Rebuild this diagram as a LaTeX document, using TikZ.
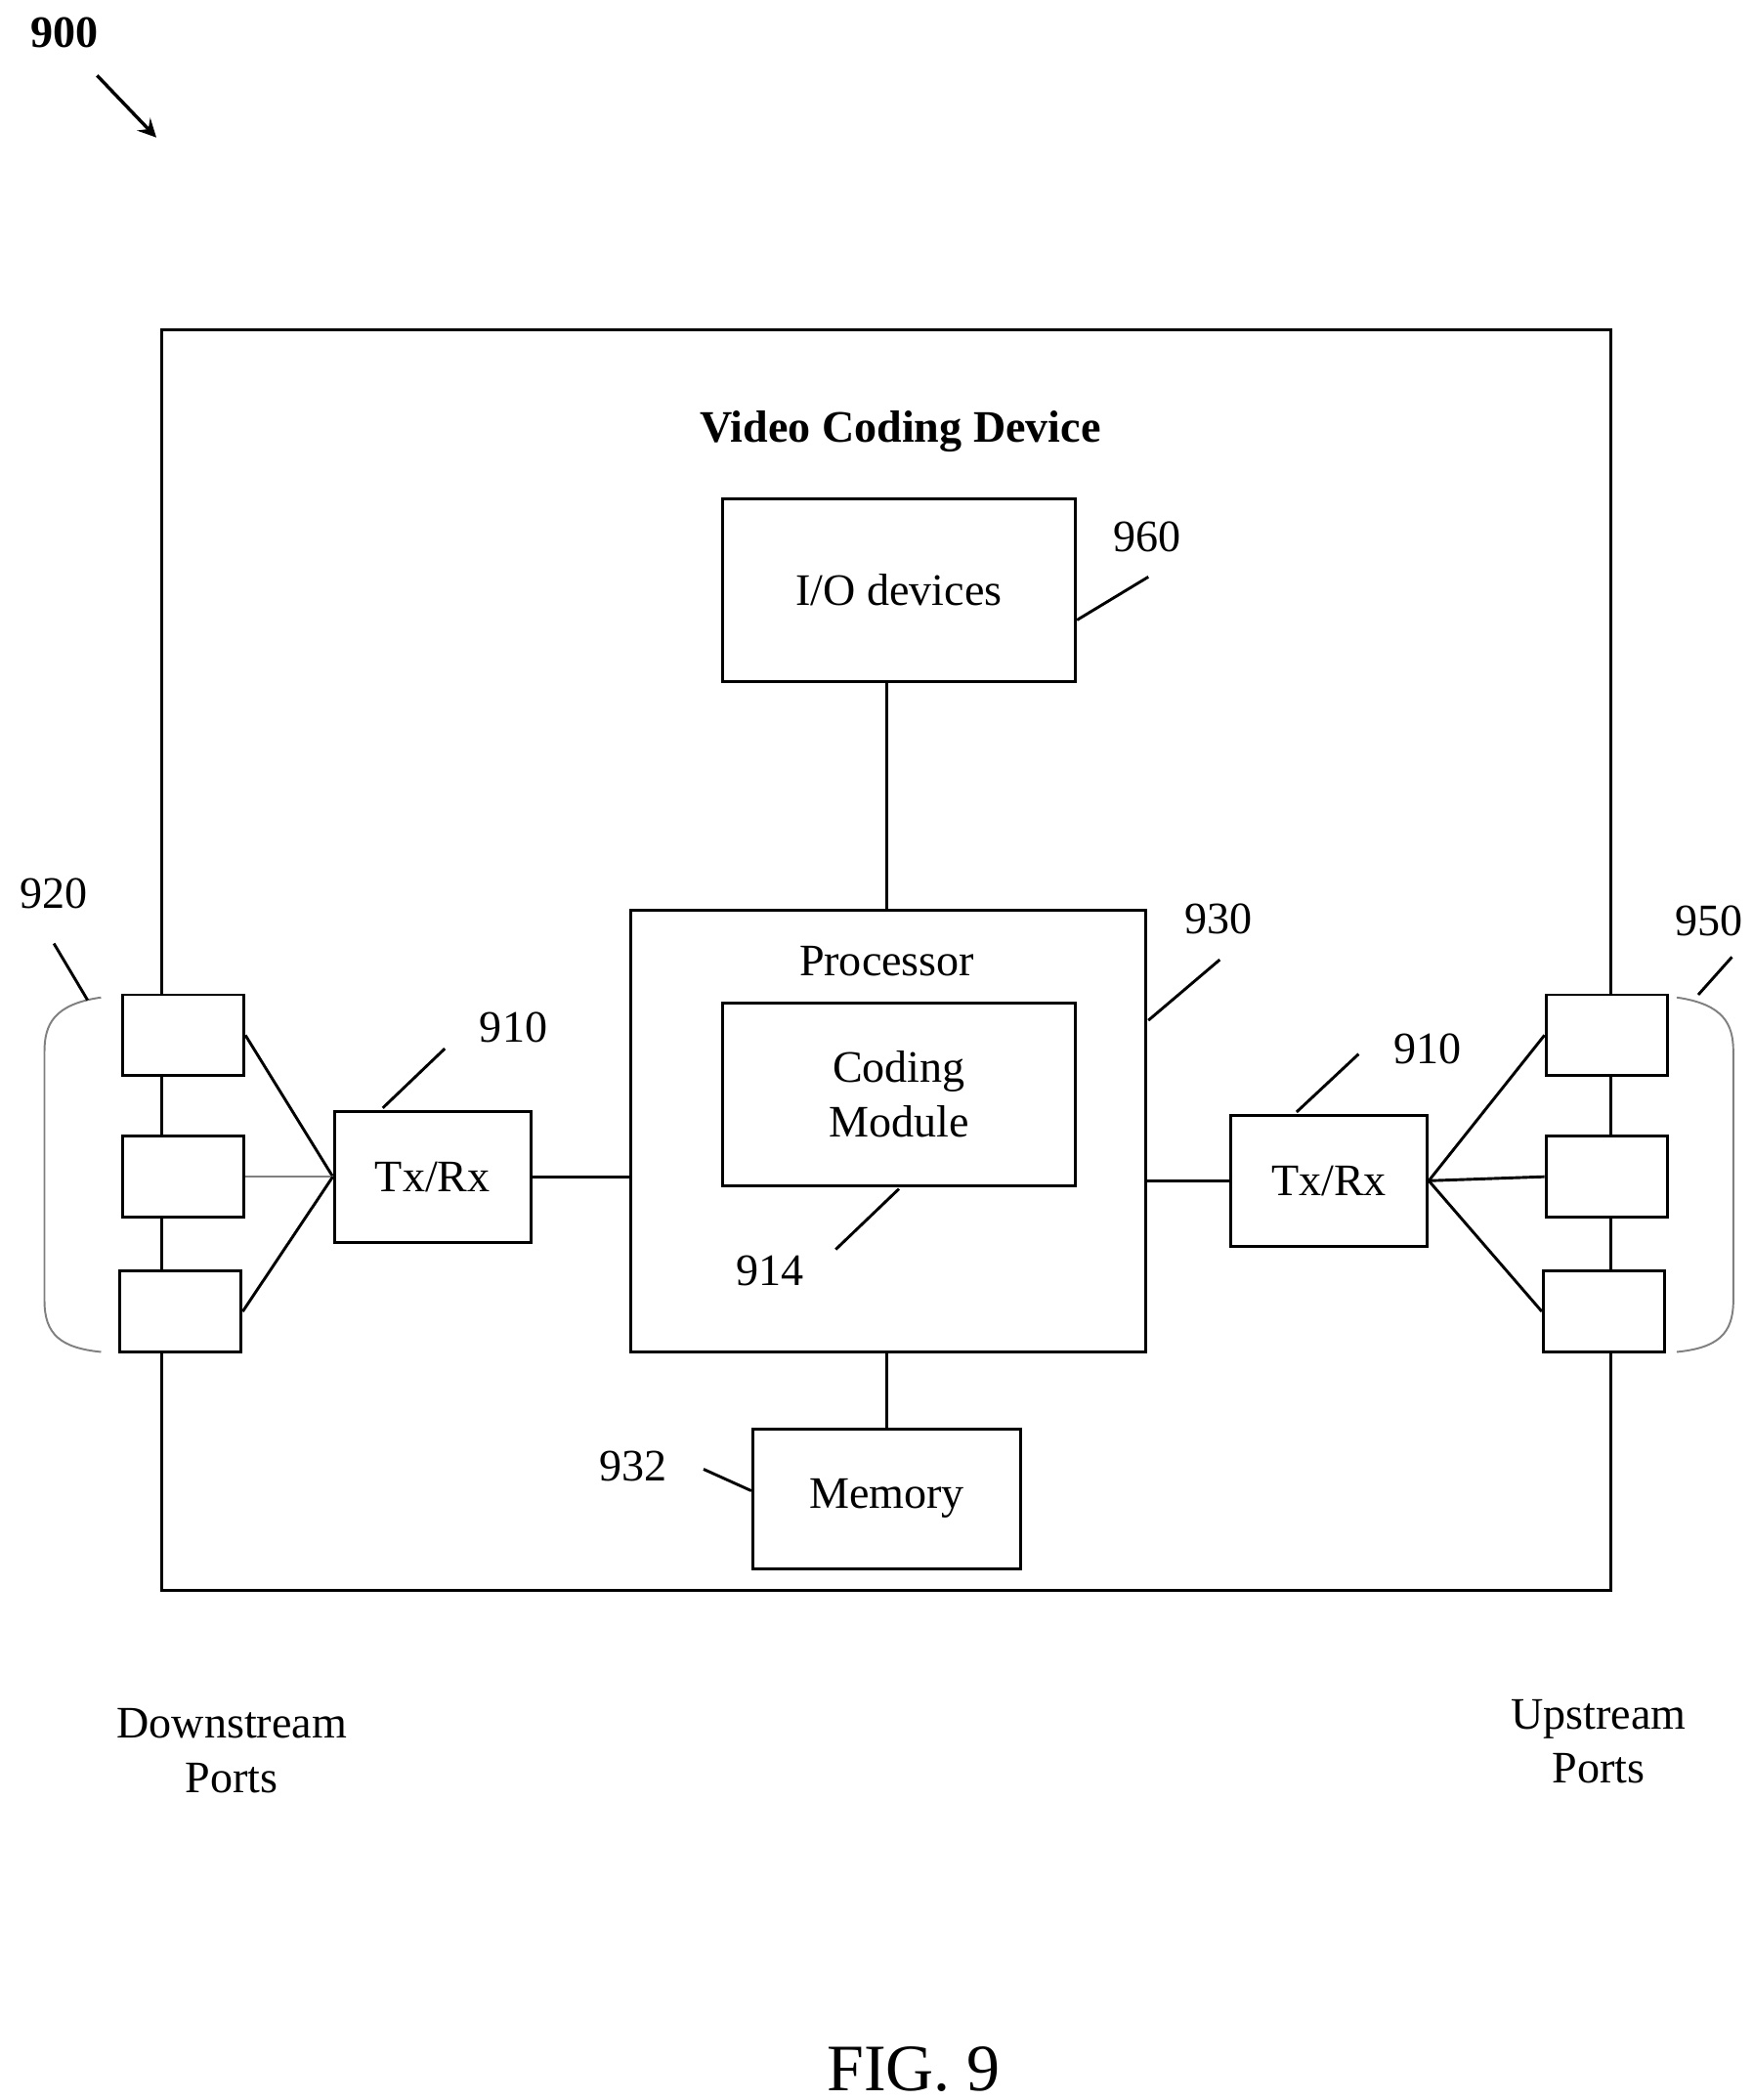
\documentclass[tikz,border=0pt]{standalone}
\usepackage{fontspec}
\setmainfont{Liberation Serif}
\usetikzlibrary{positioning}
\begin{document}
\begin{tikzpicture}[x=0.01cm,y=-0.01cm,line width=0.6pt,
box/.style = {draw, fill=white, inner sep=0pt},
lbl/.style = {font=\fontsize{9.5}{11.5}\selectfont, align=center},
lead/.style = {line width=0.6pt}
                ]
    \useasboundingbox (0,0) rectangle (1300,1558);
    % outer device box
    \draw (120,245) rectangle (1195,1180);
    \node[lbl,font=\fontsize{9.5}{11.5}\selectfont\bfseries] (title) at (668,320) {Video Coding Device};
    \node[lbl,font=\fontsize{9.5}{11.5}\selectfont\bfseries] (n900) at (48,24) {900};
    \draw[-stealth,line width=0.7pt] (72,56) -- (116,102);
    % main blocks
    \node[box,minimum width=262*0.01cm,minimum height=136*0.01cm,lbl] (io) at (667,438) {I/O devices};
    \node[box,minimum width=382*0.01cm,minimum height=328*0.01cm] (proc) at (659,839) {};
    \node[lbl] (ptxt) at (658,713) {Processor};
    \node[box,minimum width=262*0.01cm,minimum height=136*0.01cm,lbl] (code) at (667,812) {Coding\\Module};
    \node[box,minimum width=199*0.01cm,minimum height=104*0.01cm,lbl] (mem) at (658,1112) {Memory};
    \node[box,minimum width=146*0.01cm,minimum height=97*0.01cm,lbl] (txl) at (321,873) {Tx/Rx};
    \node[box,minimum width=146*0.01cm,minimum height=97*0.01cm,lbl] (txr) at (986,876) {Tx/Rx};
    \draw (io.south -| 658,0) -- (proc.north -| 658,0);
    \draw (proc.south -| 658,0) -- (mem.north -| 658,0);
    \draw (txl.east) -- (txl.east -| proc.west);
    \draw (txr.west) -- (txr.west -| proc.east);
    % ports
    \foreach \x/\y/\n in {136/768/l1, 136/873/l2, 134/973/l3, 1192/768/r1, 1192/873/r2, 1190/973/r3}
        \node[box,minimum width=90*0.01cm,minimum height=60*0.01cm] (\n) at (\x,\y) {};
    \draw (l1.east) -- (txl.west);
    \draw[line width=0.3pt,gray] (l2.east) -- (txl.west);
    \draw (l3.east) -- (txl.west);
    \foreach \n in {r1,r2,r3}
        \draw (\n.west) -- (txr.east);
    % brackets
    \draw[gray,line width=0.4pt] (75,740) .. controls (40,745) and (33,760) .. (33,780) -- (33,965)
        .. controls (33,990) and (45,1000) .. (75,1003);
    \draw[gray,line width=0.4pt] (1244,740) .. controls (1279,745) and (1286,760) .. (1286,780) -- (1286,965)
        .. controls (1286,990) and (1274,1000) .. (1244,1003);
    % reference numerals
    \node[lbl] (n960) at (851,398) {960};
    \draw[lead] (io.east |- 0,460) -- (852,428);
    \node[lbl] (n930) at (904,682) {930};
    \draw[lead] (852,757) -- (905,712);
    \node[lbl] (n914) at (571,943) {914};
    \draw[lead] (667,882) -- (620,927);
    \node[lbl] (n932) at (470,1088) {932};
    \draw[lead] (522,1090) -- (mem.west |- 0,1106);
    \node[lbl] (n910a) at (381,762) {910};
    \draw[lead] (284,822) -- (330,778);
    \node[lbl] (n910b) at (1059,778) {910};
    \draw[lead] (962,825) -- (1008,782);
    \node[lbl] (n920) at (40,663) {920};
    \draw[lead] (40,700) -- (65,742);
    \node[lbl] (n950) at (1268,683) {950};
    \draw[lead] (1285,710) -- (1260,738);
    % captions
    \node[lbl] (down) at (172,1299) {Downstream\\Ports};
    \node[lbl] (up) at (1186,1292) {Upstream\\Ports};
    \node[font=\fontsize{14}{16}\selectfont] (fig) at (678,1535) {FIG. 9};
\end{tikzpicture}
\end{document}
